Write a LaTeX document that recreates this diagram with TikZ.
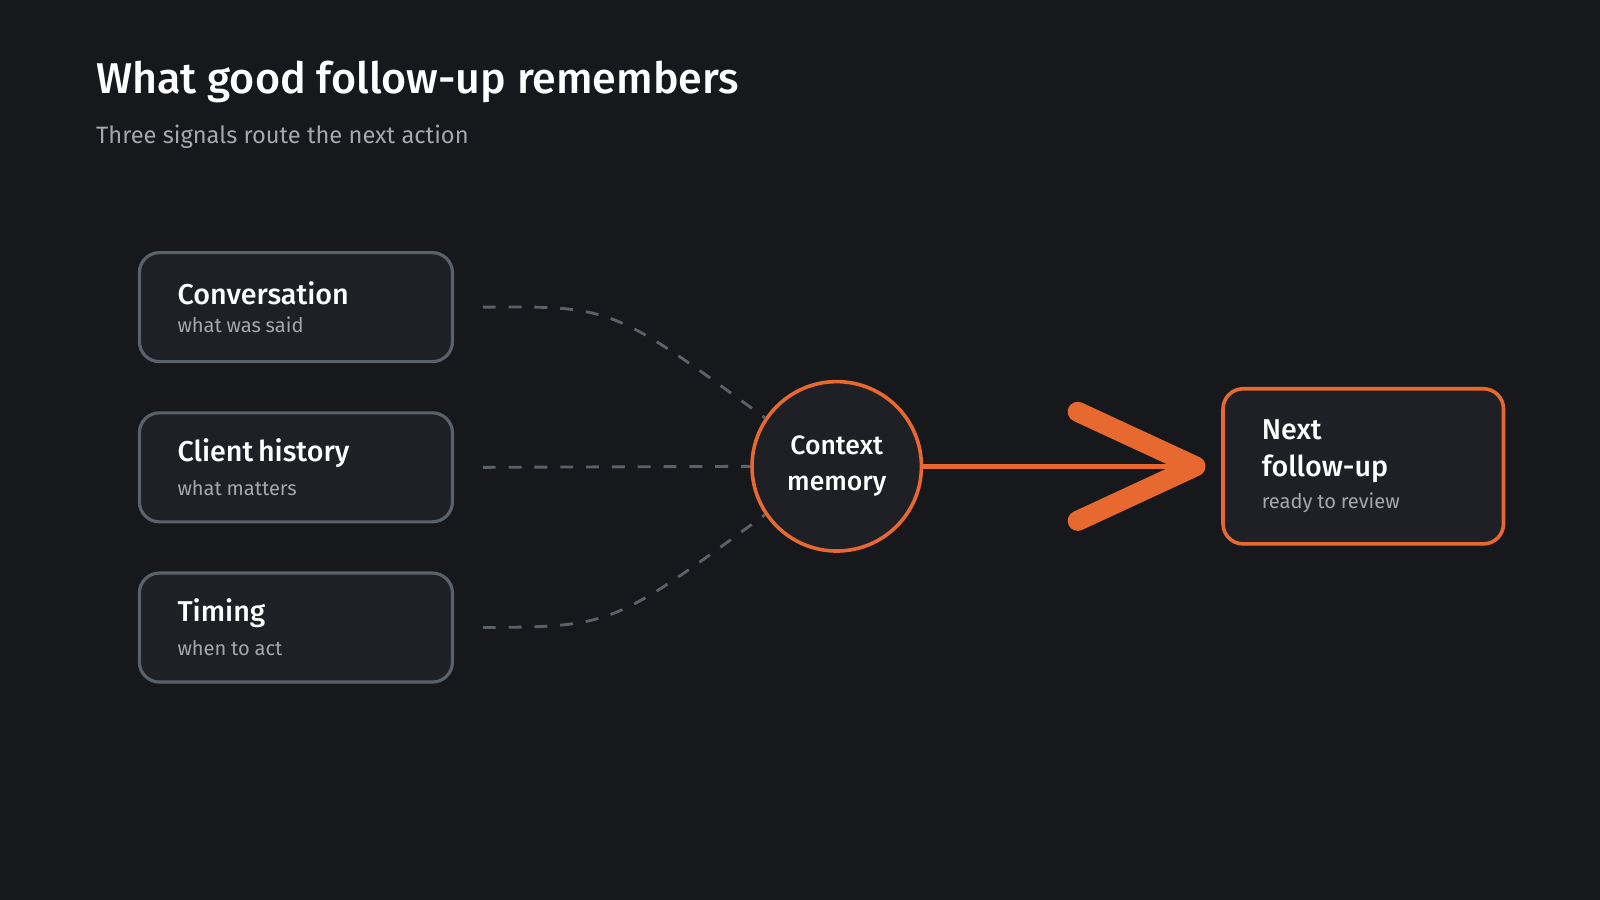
\documentclass[tikz,border=0pt]{standalone}
\usepackage{fontspec}
\setmainfont{Fira Sans}[BoldFont={Fira Sans Medium}]
\usetikzlibrary{positioning}
\definecolor{bg}{HTML}{17181C}
\definecolor{boxfill}{HTML}{1E2026}
\definecolor{boxline}{HTML}{5B616B}
\definecolor{accent}{HTML}{E8692F}
\definecolor{subtext}{HTML}{A3A7AE}
\tikzset{
  signal/.style = {draw=boxline, line width=2.2pt, fill=boxfill, rounded corners=14pt,
                   minimum width=7.67cm, minimum height=2.67cm, text width=5.8cm, align=left, inner sep=0pt},
  hub/.style = {circle, draw=accent, line width=2.5pt, fill=boxfill, minimum size=4.15cm,
                align=center, text=white, font=\fontsize{18.5}{25}\selectfont\bfseries},
  target/.style = {draw=accent, line width=2.5pt, fill=boxfill, rounded corners=14pt,
                   minimum width=6.87cm, minimum height=3.8cm, text width=4.97cm, align=left, inner sep=0pt},
  link/.style = {draw=boxline, line width=2pt, dash pattern=on 9pt off 9pt},
  flow/.style = {draw=accent, line width=3.5pt},
  chevron/.style = {draw=accent, line width=14pt, line cap=round, line join=round}
}
\newcommand{\sigtext}[2]{{\fontsize{20}{24}\selectfont\bfseries\color{white}#1}\\[8pt]{\fontsize{14}{17}\selectfont\color{subtext}#2}}
\begin{document}
\begin{tikzpicture}[x=0.025cm, y=-0.025cm]
  \fill[bg] (0,0) rectangle (1568,882);
  \useasboundingbox (0,0) rectangle (1568,882);

  % Title
  \node[anchor=base west, text=white, font=\fontsize{30}{34}\selectfont\bfseries, inner sep=0pt] (title) at (94,92) {What good follow-up remembers};
  \node[anchor=base west, text=subtext, font=\fontsize{16.5}{20}\selectfont, inner sep=0pt] (subtitle) at (94,141) {Three signals route the next action};

  % Place nodes
  \node[signal] (conv) at (290,301) {\sigtext{Conversation}{what was said}};
  \node[signal] (hist) at (290,458) {\sigtext{Client history}{what matters}};
  \node[signal] (timing) at (290,615) {\sigtext{Timing}{when to act}};
  \node[hub] (ctx) at (820,457) {Context\\memory};
  \node[target] (next) at (1336,457) {{\fontsize{20}{26}\selectfont\bfseries\color{white}Next\\follow-up\par}\vspace{6pt}{\fontsize{14}{17}\selectfont\color{subtext}ready to review}};

  % Draw edges
  \draw[link] ([xshift=20]conv.east) .. controls (600,300) .. (ctx.146);
  \draw[link] ([xshift=20]hist.east) -- (ctx.west);
  \draw[link] ([xshift=20]timing.east) .. controls (600,614) .. (ctx.214);
  \draw[flow] (ctx.east) -- ([xshift=-12]next.west);
  \draw[chevron] ([xshift=-100,yshift=-38]next.west) -- ([xshift=-18]next.west) -- ([xshift=-100,yshift=38]next.west);
\end{tikzpicture}
\end{document}
